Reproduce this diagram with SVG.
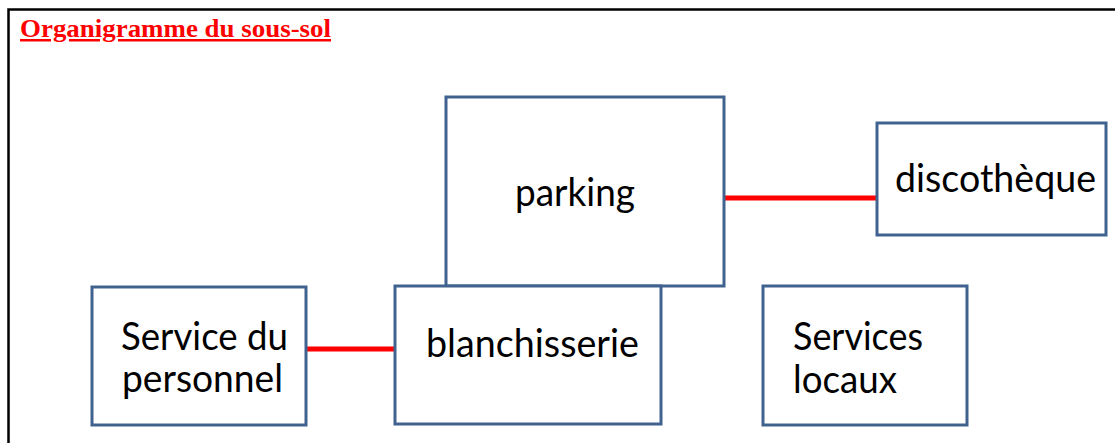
<svg xmlns="http://www.w3.org/2000/svg" width="1115" height="443" viewBox="0 0 1115 443">
  <style>
    .box { fill: #ffffff; stroke: #40628F; stroke-width: 3; }
    .lbl { font-family: Lato, "Open Sans", sans-serif; font-size: 38px; fill: #000000; }
    .link { stroke: #FF0000; stroke-width: 5; fill: none; }
    .title { font-family: "Liberation Serif", "Times New Roman", serif; font-weight: bold; font-size: 25px; fill: #FF0000; text-decoration: underline; }
  </style>
  <rect x="0" y="0" width="1115" height="443" fill="#ffffff"/>
  <path d="M 8.5 450 V 9.5 H 1120" fill="none" stroke="#000000" stroke-width="2.5"/>
  <text class="title" x="20" y="37" textLength="311" lengthAdjust="spacingAndGlyphs">Organigramme du sous-sol</text>

  <g id="connectors">
    <line class="link" x1="725" y1="198" x2="877" y2="198"/>
    <line class="link" x1="307" y1="349" x2="395" y2="349"/>
  </g>

  <g id="node-parking">
    <rect class="box" x="446" y="97" width="278" height="189"/>
    <text class="lbl" x="515" y="206" textLength="120" lengthAdjust="spacingAndGlyphs">parking</text>
  </g>

  <g id="node-discotheque">
    <rect class="box" x="877" y="123" width="229" height="112"/>
    <text class="lbl" x="895" y="192" textLength="201" lengthAdjust="spacingAndGlyphs">discothèque</text>
  </g>

  <g id="node-service-personnel">
    <rect class="box" x="92" y="287" width="214" height="138"/>
    <text class="lbl" x="121" y="350" textLength="167" lengthAdjust="spacingAndGlyphs">Service du</text>
    <text class="lbl" x="122" y="392" textLength="161" lengthAdjust="spacingAndGlyphs">personnel</text>
  </g>

  <g id="node-blanchisserie">
    <rect class="box" x="395" y="286" width="266" height="138"/>
    <text class="lbl" x="426" y="357" textLength="213" lengthAdjust="spacingAndGlyphs">blanchisserie</text>
  </g>

  <g id="node-services-locaux">
    <rect class="box" x="763" y="286" width="204" height="139"/>
    <text class="lbl" x="793" y="350" textLength="130" lengthAdjust="spacingAndGlyphs">Services</text>
    <text class="lbl" x="793" y="393" textLength="104" lengthAdjust="spacingAndGlyphs">locaux</text>
  </g>
</svg>
